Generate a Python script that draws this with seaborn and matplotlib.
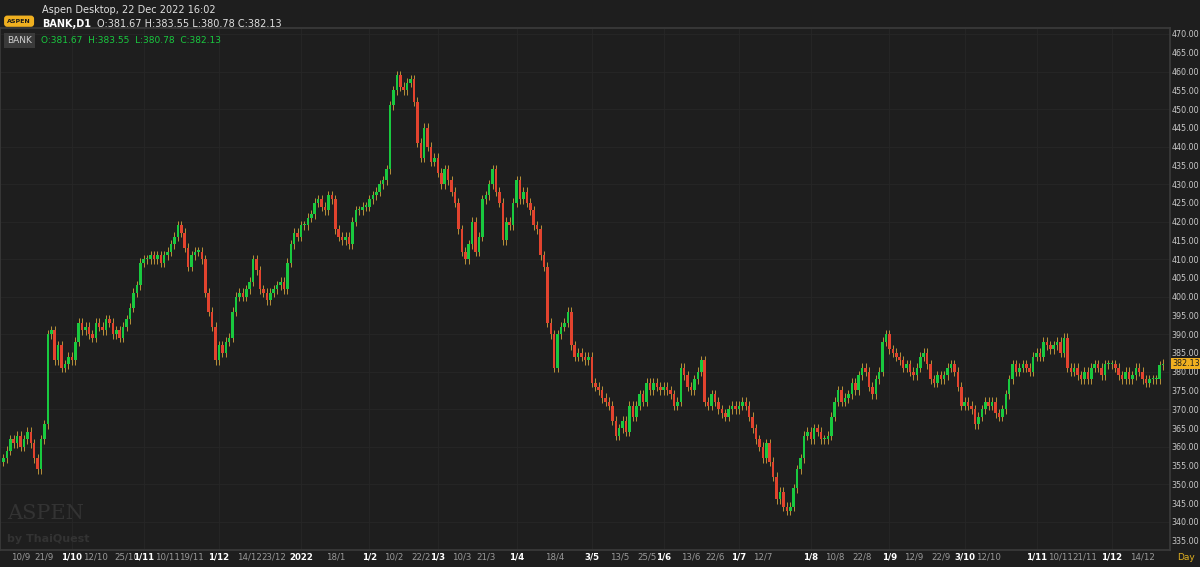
import numpy as np
import pandas as pd
import seaborn as sns
import matplotlib.pyplot as plt

# daily closes, BANK index, Sep 2021 - Dec 2022
close_sep21 = [357, 359, 362, 361, 363, 360, 362, 364, 361, 357, 354, 362, 366, 390, 391, 383, 387, 381, 382]
close_oct21 = [384, 383, 388, 393, 391, 392, 390, 389, 393, 392, 391, 394, 393, 390, 391, 389, 392, 394, 397, 401, 403]
close_nov21 = [409, 410, 410, 411, 410, 411, 409, 411, 412, 414, 416, 419, 417, 413, 408, 411, 412, 412, 410, 401, 396, 392]
close_dec21 = [383, 387, 385, 388, 389, 396, 400, 401, 400, 402, 404, 410, 407, 402, 401, 399, 401, 402, 403, 404, 402, 409, 414]
close_jan22 = [417, 416, 419, 419, 421, 422, 425, 426, 424, 423, 427, 426, 418, 416, 415, 416, 414, 420, 423, 423, 424]
close_feb22 = [424, 426, 427, 428, 430, 431, 434, 451, 455, 459, 456, 455, 457, 458, 452, 441, 437, 445, 440, 436]
close_mar22 = [437, 433, 430, 434, 431, 428, 425, 418, 412, 410, 414, 420, 412, 416, 426, 427, 430, 434, 428, 425, 415, 420, 419]
close_apr22 = [425, 431, 426, 428, 425, 423, 419, 418, 411, 408, 393, 390, 381, 390, 392, 393, 396, 387, 384, 385, 384, 383]
close_may22 = [384, 377, 376, 375, 373, 372, 371, 367, 363, 365, 367, 364, 371, 368, 371, 374, 372, 377, 375, 377, 376, 375]
close_jun22 = [376, 375, 374, 371, 372, 381, 379, 376, 375, 378, 380, 383, 372, 371, 374, 372, 370, 369, 368, 370, 371, 370]
close_jul22 = [371, 372, 371, 368, 365, 362, 360, 357, 361, 356, 352, 346, 348, 344, 343, 344, 349, 354, 357, 363, 364]
close_aug22 = [362, 365, 364, 362, 362, 363, 368, 372, 375, 372, 373, 374, 377, 375, 379, 381, 380, 376, 374, 378, 380, 388, 390]
close_sep22 = [386, 385, 384, 383, 381, 382, 380, 379, 381, 384, 385, 382, 378, 377, 379, 378, 379, 381, 382, 380, 376, 371]
close_oct22 = [372, 371, 370, 366, 368, 370, 372, 371, 372, 369, 368, 370, 374, 378, 382, 380, 381, 382, 381, 380, 384]
close_nov22 = [385, 384, 388, 387, 386, 387, 388, 385, 389, 381, 380, 381, 379, 378, 380, 378, 381, 382, 381, 379, 382, 382]
close_dec22 = [382, 381, 379, 378, 380, 378, 379, 381, 380, 378, 377, 378, 378, 378, 381.67, 382.13]

first_open = 356
wick = 1.2

tick_days = ['2021-09-10', '2021-09-21', '2021-10-01', '2021-10-12', '2021-10-25', '2021-11-01',
             '2021-11-10', '2021-11-19', '2021-12-01', '2021-12-14', '2021-12-23', '2022-01-04',
             '2022-01-18', '2022-02-01', '2022-02-10', '2022-02-22', '2022-03-01', '2022-03-10',
             '2022-03-21', '2022-04-01', '2022-04-18', '2022-05-03', '2022-05-13', '2022-05-25',
             '2022-06-01', '2022-06-13', '2022-06-22', '2022-07-01', '2022-07-12', '2022-08-01',
             '2022-08-10', '2022-08-22', '2022-09-01', '2022-09-12', '2022-09-22', '2022-10-03',
             '2022-10-12', '2022-11-01', '2022-11-10', '2022-11-21', '2022-12-01', '2022-12-14']

closes = np.array(close_sep21 + close_oct21 + close_nov21 + close_dec21 + close_jan22 + close_feb22 +
                  close_mar22 + close_apr22 + close_may22 + close_jun22 + close_jul22 + close_aug22 +
                  close_sep22 + close_oct22 + close_nov22 + close_dec22, dtype=float)
opens = np.concatenate([[first_open], closes[:-1]])
dates = pd.bdate_range(end='2022-12-22', periods=len(closes))
df = pd.DataFrame({'date': dates, 'open': opens, 'close': closes})
df['high'] = df[['open', 'close']].max(axis=1) + wick
df['low'] = df[['open', 'close']].min(axis=1) - wick
df['up'] = df['close'] >= df['open']

bg = '#1e1e1e'
sns.set_theme(style='dark', rc={'axes.facecolor': bg, 'figure.facecolor': bg})
plt.rcParams['font.family'] = ['DejaVu Sans']

fig = plt.figure(figsize=(12, 5.67), dpi=100)
ax = fig.add_axes([0.0, 0.03, 0.975, 0.92])
x = np.arange(len(df))
ax.vlines(x, df['low'], df['high'], color='#b8923a', lw=0.7, zorder=2)
body = (df['close'] - df['open']).abs().clip(lower=0.4)
bottom = df[['open', 'close']].min(axis=1)
colors = np.where(df['up'], '#19c93f', '#e2432e')
ax.bar(x, body, bottom=bottom, width=0.75, color=colors, zorder=3, linewidth=0)

ax.set_xlim(-1, len(df) + 1)
ax.set_ylim(332.5, 471.5)
ax.yaxis.tick_right()
ax.set_yticks(np.arange(335, 471, 5))
ax.set_yticklabels([f'{v:.2f}' for v in np.arange(335, 471, 5)], fontsize=5.8, color='#c8c8c8')
ax.tick_params(axis='y', length=0, pad=1)
ax.grid(False)
for v in np.arange(340, 471, 10):
    ax.axhline(v, color='#272727', lw=0.6, zorder=0)

td = pd.to_datetime(tick_days)
pos = np.searchsorted(df['date'].values, td.values)
labels = ['2022' if d.month == 1 and d.year == 2022 and d.day < 5 else f'{d.day}/{d.month}' for d in td]
ax.set_xticks(pos)
ax.set_xticklabels(labels, fontsize=6.2)
for p, lab, d in zip(pos, ax.get_xticklabels(), td):
    first = d.day <= 4
    lab.set_color('#ffffff' if first else '#9a9a9a')
    if first:
        lab.set_fontweight('bold')
        ax.axvline(p, color='#272727', lw=0.6, zorder=0)
ax.tick_params(axis='x', length=0, pad=2)
for s in ax.spines.values():
    s.set_color('#3a3a3a')

fig.text(0.035, 0.977, 'Aspen Desktop, 22 Dec 2022 16:02', color='#e0e0e0', fontsize=7)
fig.text(0.035, 0.952, 'BANK,D1', color='#ffffff', fontsize=7, weight='bold')
fig.text(0.081, 0.952, 'O:381.67 H:383.55 L:380.78 C:382.13', color='#e0e0e0', fontsize=7)
fig.text(0.006, 0.960, 'ASPEN', color='#1a1a1a', fontsize=4.5, weight='bold',
         bbox=dict(boxstyle='round,pad=0.5', fc='#f0b020', ec='none'))
ax.text(0.006, 0.985, 'BANK', transform=ax.transAxes, color='#d0d0d0', fontsize=6.5, va='top',
        bbox=dict(boxstyle='square,pad=0.3', fc='#3a3a3a', ec='none'))
ax.text(0.035, 0.985, 'O:381.67  H:383.55  L:380.78  C:382.13', transform=ax.transAxes,
        color='#19c93f', fontsize=6.5, va='top')
ax.text(0.006, 0.06, 'ASPEN', transform=ax.transAxes, color='#333333', fontsize=15, family='serif')
ax.text(0.006, 0.015, 'by ThaiQuest', transform=ax.transAxes, color='#333333', fontsize=8, weight='bold')
ax.text(1.002, closes[-1], f'{closes[-1]:.2f}', transform=ax.get_yaxis_transform(), color='#1e1e1e',
        fontsize=5.8, va='center', bbox=dict(boxstyle='square,pad=0.15', fc='#f0b020', ec='none'))
fig.text(0.988, 0.012, 'Day', color='#e0b020', fontsize=6.5, ha='center')

fig.savefig('out.png', dpi=100, facecolor=bg)
